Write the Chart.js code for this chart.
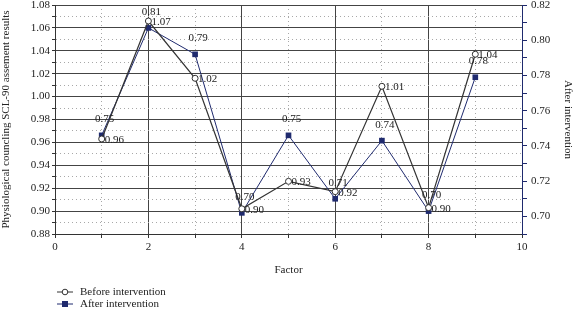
<!DOCTYPE html>
<html>
<head>
<meta charset="utf-8">
<script src="https://cdn.jsdelivr.net/npm/chart.js@4"></script>
<style>
  html, body { margin: 0; padding: 0; background: #fff; }
  #wrap { width: 574px; height: 309px; }
</style>
</head>
<body>
<div id="wrap"><canvas id="js--chart"></canvas></div>
<script>
// data
const factors = [1, 2, 3, 4, 5, 6, 7, 8, 9];
const beforeValues = [0.963, 1.066, 1.016, 0.902, 0.926, 0.917, 1.009, 0.903, 1.037];
const afterValues = [0.746, 0.807, 0.792, 0.702, 0.746, 0.710, 0.743, 0.703, 0.779];

const navy = '#1f2a6e';
const dark = '#333333';
const serif = '"Liberation Serif", "DejaVu Serif", serif';
const font = { family: serif, size: 11 };

function dashFor(isMajor) {
    return function (ctx) {
        if (!ctx.tick) return [];
        return isMajor(ctx.tick.value) ? [] : [1, 3];
    };
}
function colorFor(isMajor) {
    return function (ctx) {
        if (!ctx.tick) return dark;
        return isMajor(ctx.tick.value) ? '#444444' : '#a8a8a8';
    };
}
const xMajor = v => Math.round(v) % 2 === 0;
const yMajor = v => Math.round(v * 100) % 2 === 0;

// point value labels
const valueLabels = {
    id: 'valueLabels',
    afterDatasetsDraw(chart) {
        const ctx = chart.ctx;
        ctx.save();
        ctx.font = '11px ' + serif;
        ctx.fillStyle = '#222';
        ctx.textBaseline = 'middle';
        chart.data.datasets.forEach(function (ds, i) {
            const meta = chart.getDatasetMeta(i);
            meta.data.forEach(function (pt, j) {
                const txt = ds.data[j].y.toFixed(2);
                if (i === 0) {
                    ctx.textAlign = 'left';
                    ctx.fillText(txt, pt.x + 3, pt.y + 1);
                } else {
                    ctx.textAlign = 'center';
                    ctx.fillText(txt, pt.x + 3, pt.y - 16);
                }
            });
        });
        ctx.restore();
    }
};

// legend at bottom left, line + marker
const bottomLegend = {
    id: 'bottomLegend',
    afterDraw(chart) {
        const ctx = chart.ctx;
        ctx.save();
        ctx.font = '11px ' + serif;
        ctx.textBaseline = 'middle';
        ctx.textAlign = 'left';
        ctx.fillStyle = '#222';
        // before
        let y = 292;
        ctx.strokeStyle = dark;
        ctx.lineWidth = 1;
        ctx.beginPath(); ctx.moveTo(57, y); ctx.lineTo(73, y); ctx.stroke();
        ctx.beginPath(); ctx.arc(65, y, 2.8, 0, Math.PI * 2);
        ctx.fillStyle = '#fff'; ctx.fill(); ctx.stroke();
        ctx.fillStyle = '#222';
        ctx.fillText('Before intervention', 80, y);
        // after
        y = 304;
        ctx.strokeStyle = navy;
        ctx.beginPath(); ctx.moveTo(57, y); ctx.lineTo(73, y); ctx.stroke();
        ctx.fillStyle = navy;
        ctx.fillRect(62, y - 3, 6, 6);
        ctx.fillStyle = '#222';
        ctx.fillText('After intervention', 80, y);
        ctx.restore();
    }
};

const data = {
    datasets: [{
        label: 'Before intervention',
        data: factors.map((f, i) => ({ x: f, y: beforeValues[i] })),
        yAxisID: 'y',
        borderColor: dark,
        borderWidth: 1.2,
        pointStyle: 'circle',
        pointRadius: 3,
        pointBackgroundColor: '#fff',
        pointBorderColor: dark,
        pointBorderWidth: 1,
        tension: 0
    }, {
        label: 'After intervention',
        data: factors.map((f, i) => ({ x: f, y: afterValues[i] })),
        yAxisID: 'y1',
        borderColor: navy,
        borderWidth: 1,
        pointStyle: 'rect',
        pointRadius: 4,
        pointBackgroundColor: navy,
        pointBorderColor: navy,
        pointBorderWidth: 0,
        tension: 0
    }]
};

function noVertPad(s) {
    s.paddingTop = 0;
    s.paddingBottom = 0;
}

const config = {
    type: 'line',
    data: data,
    options: {
        responsive: true,
        maintainAspectRatio: false,
        animation: false,
        layout: { padding: { top: 3, bottom: 32, left: 0, right: 0 } },
        plugins: { legend: { display: false }, tooltip: { enabled: false } },
        scales: {
            x: {
                type: 'linear',
                min: 0,
                max: 10,
                ticks: {
                    stepSize: 1,
                    autoSkip: false,
                    maxRotation: 0,
                    padding: 3,
                    font: font,
                    color: '#222',
                    callback: v => xMajor(v) ? String(Math.round(v)) : ''
                },
                grid: { color: colorFor(xMajor), tickLength: 4, tickColor: dark },
                border: { color: dark, dash: dashFor(xMajor) },
                title: { display: true, text: 'Factor', font: font, color: '#222', padding: 0 },
                afterFit: function (s) { s.height = 43; }
            },
            y: {
                position: 'left',
                min: 0.88,
                max: 1.08,
                ticks: {
                    stepSize: 0.01,
                    autoSkip: false,
                    padding: 2,
                    font: font,
                    color: '#222',
                    callback: v => yMajor(v) ? v.toFixed(2) : ''
                },
                grid: { color: colorFor(yMajor), tickLength: 3, tickColor: dark },
                border: { color: dark, dash: dashFor(yMajor) },
                title: { display: true, text: 'Physiological councling SCL-90 assement results', font: font, color: '#222', padding: 0 },
                afterFit: function (s) { s.width = 55; noVertPad(s); }
            },
            y1: {
                position: 'right',
                min: 0.69,
                max: 0.82,
                ticks: {
                    stepSize: 0.01,
                    autoSkip: false,
                    padding: 4,
                    font: font,
                    color: '#222',
                    callback: v => yMajor(v) ? v.toFixed(2) : ''
                },
                grid: { drawOnChartArea: false, tickLength: 5, tickColor: navy, color: navy },
                border: { color: navy },
                title: { display: true, text: 'After intervention', font: font, color: '#222', padding: 0 },
                afterFit: function (s) { s.width = 52; noVertPad(s); }
            }
        }
    },
    plugins: [valueLabels, bottomLegend]
};

new Chart(document.getElementById('js--chart'), config);
</script>
</body>
</html>
